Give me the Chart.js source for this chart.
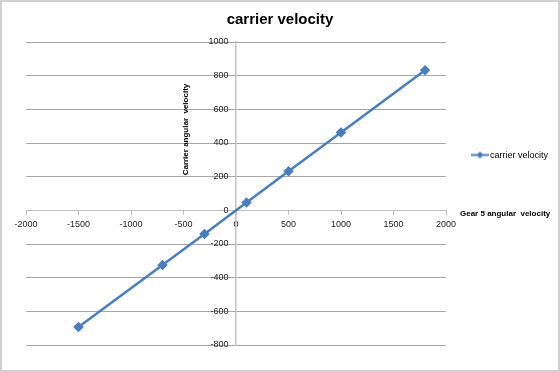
<!DOCTYPE html>
<html>
<head>
<meta charset="utf-8">
<script src="https://cdn.jsdelivr.net/npm/chart.js@4/dist/chart.umd.min.js"></script>
<style>
  body { margin: 0; background: #fff; }
  canvas { display: block; }
</style>
</head>
<body>
<canvas id="chart" width="560" height="372"></canvas>
<script>
var gearSpeed = [-1500, -700, -300, 100, 500, 1000, 1800];
var carrierSpeed = [-693, -325, -140, 46, 232, 463, 832];
var seriesName = 'carrier velocity';
var chartTitle = 'carrier velocity';
var xTitle = 'Gear 5 angular  velocity';
var yTitle = 'Carrier angular  velocity';
var xRange = [-2000, 2000, 500];
var yRange = [-800, 1000, 200];

var lineColor = '#4a7ebb';
var fontName = '"Liberation Sans", Arial, sans-serif';

var points = [];
for (var i = 0; i < gearSpeed.length; i++) {
  points.push({x: gearSpeed[i], y: carrierSpeed[i]});
}

// little legend marker: line with a diamond in the middle
var marker = document.createElement('canvas');
marker.width = 18;
marker.height = 9;
var mctx = marker.getContext('2d');
mctx.strokeStyle = lineColor;
mctx.lineWidth = 2;
mctx.beginPath();
mctx.moveTo(0, 4.5);
mctx.lineTo(18, 4.5);
mctx.stroke();
mctx.fillStyle = lineColor;
mctx.beginPath();
mctx.moveTo(9, 1);
mctx.lineTo(12.5, 4.5);
mctx.lineTo(9, 8);
mctx.lineTo(5.5, 4.5);
mctx.closePath();
mctx.fill();

var extras = {
  id: 'extras',
  beforeDraw: function(chart) {
    var ctx = chart.ctx;
    ctx.save();
    ctx.fillStyle = '#fff';
    ctx.fillRect(0, 0, chart.width, chart.height);
    ctx.restore();
  },
  afterDraw: function(chart) {
    var ctx = chart.ctx;
    ctx.save();
    // frame
    ctx.strokeStyle = '#d0d0d0';
    ctx.lineWidth = 2;
    ctx.strokeRect(1, 1, chart.width - 2, chart.height - 2);

    // title, centred on the whole picture
    ctx.fillStyle = '#000';
    ctx.textAlign = 'center';
    ctx.textBaseline = 'middle';
    ctx.font = 'bold 15px ' + fontName;
    ctx.fillText(chartTitle, chart.width / 2, 20);

    var xs = chart.scales.x, ys = chart.scales.y;
    var zeroY = ys.getPixelForValue(0);
    var zeroX = xs.getPixelForValue(0);

    // axis titles
    ctx.font = 'bold 8px ' + fontName;
    ctx.textAlign = 'left';
    ctx.fillText(xTitle, chart.chartArea.right + 14, zeroY + 3);

    ctx.save();
    ctx.translate(zeroX - 50, ys.getPixelForValue(480));
    ctx.rotate(-Math.PI / 2);
    ctx.textAlign = 'center';
    ctx.fillText(yTitle, 0, 0);
    ctx.restore();

    // legend
    var lx = 471, ly = 155;
    ctx.drawImage(marker, lx, ly - 4.5);
    ctx.font = '9px ' + fontName;
    ctx.textAlign = 'left';
    ctx.fillText(seriesName, lx + 19, ly + 0.5);
    ctx.restore();
  }
};

new Chart(document.getElementById('chart').getContext('2d'), {
  type: 'scatter',
  data: {
    datasets: [{
      label: seriesName,
      data: points,
      showLine: true,
      borderColor: lineColor,
      backgroundColor: lineColor,
      borderWidth: 2.5,
      pointStyle: 'rectRot',
      pointRadius: 3.5,
      pointHoverRadius: 3.5
    }]
  },
  options: {
    responsive: false,
    animation: false,
    devicePixelRatio: 1,
    layout: { padding: { left: 26, right: 114, top: 42, bottom: 27 } },
    plugins: {
      legend: { display: false },
      tooltip: { enabled: false },
      title: { display: false }
    },
    scales: {
      x: {
        type: 'linear',
        position: { y: 0 },
        min: xRange[0],
        max: xRange[1],
        ticks: {
          stepSize: xRange[2],
          color: '#222',
          font: { family: fontName, size: 9 },
          padding: 5,
          maxRotation: 0,
          callback: function(v) { return String(v); }
        },
        grid: {
          drawOnChartArea: false,
          drawTicks: true,
          tickLength: 4,
          tickColor: '#bdbdbd'
        },
        border: { color: '#bdbdbd', width: 1 }
      },
      y: {
        type: 'linear',
        position: { x: 0 },
        min: yRange[0],
        max: yRange[1],
        ticks: {
          stepSize: yRange[2],
          color: '#222',
          font: { family: fontName, size: 9 },
          padding: 3,
          // labels sit a few px left of the axis line
          callback: function(v) { return String(v) + '   '; }
        },
        grid: {
          color: function(c) { return c.tick && c.tick.value === 0 ? 'rgba(0,0,0,0)' : '#a6a6a6'; },
          tickColor: '#a6a6a6',
          tickLength: 4
        },
        border: { color: '#c4c4c4', width: 1.5 }
      }
    }
  },
  plugins: [extras]
});
</script>
</body>
</html>
